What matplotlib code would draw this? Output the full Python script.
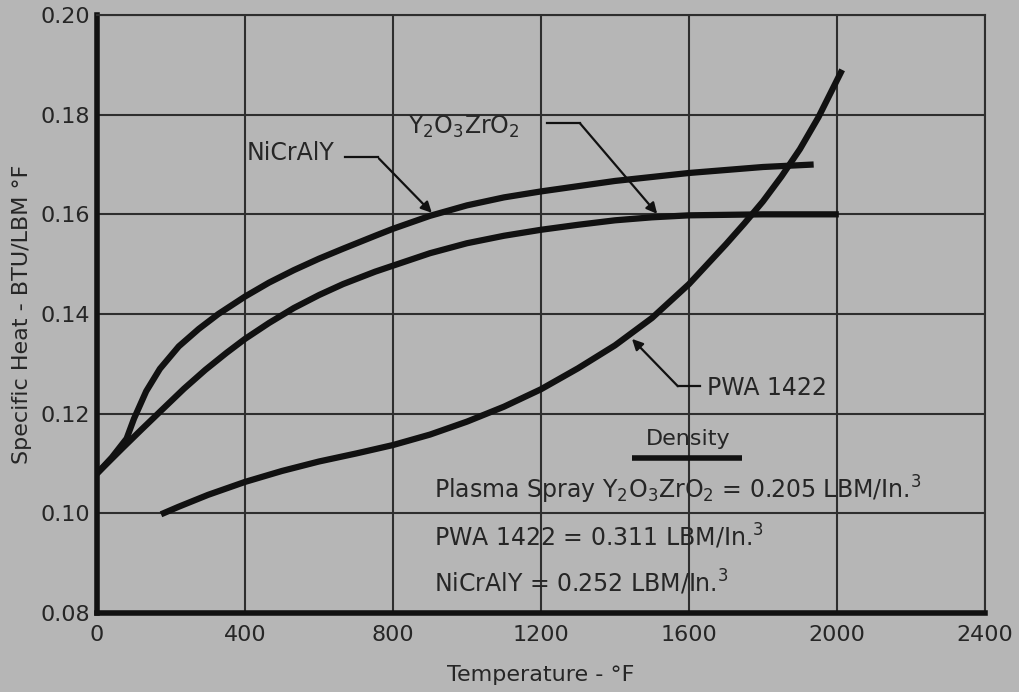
import matplotlib
matplotlib.use("Agg")
import matplotlib.pyplot as plt

# ---- data ----
nicraly_T = [0, 40, 80, 100, 133, 170, 221, 275, 328, 400, 465, 532, 600, 665, 752, 800, 900, 1000,
             1100, 1200, 1400, 1600, 1800, 1937]
nicraly_cp = [0.108, 0.1112, 0.1150, 0.1190, 0.1245, 0.1290, 0.1335, 0.1370, 0.1400, 0.1435, 0.1463,
              0.1488, 0.1511, 0.1531, 0.1557, 0.1571, 0.1597, 0.1618, 0.1634, 0.1646, 0.1667, 0.1683,
              0.1695, 0.1700]

yzr_T = [0, 69, 120, 176, 235, 293, 350, 400, 465, 532, 600, 665, 752, 800, 900, 1000, 1100, 1200,
         1300, 1400, 1500, 1600, 1800, 2005]
yzr_cp = [0.108, 0.1131, 0.1168, 0.1208, 0.1250, 0.1288, 0.1322, 0.1350, 0.1382, 0.1412, 0.1438,
          0.1460, 0.1485, 0.1497, 0.1522, 0.1542, 0.1557, 0.1569, 0.1579, 0.1588, 0.1594, 0.1598,
          0.1600, 0.1600]

pwa_T = [173, 220, 300, 400, 500, 600, 700, 800, 900, 1000, 1100, 1200, 1300, 1400, 1500, 1600,
         1650, 1700, 1750, 1800, 1850, 1900, 1950, 2014]
pwa_cp = [0.0998, 0.1013, 0.1037, 0.1063, 0.1085, 0.1104, 0.1120, 0.1137, 0.1158, 0.1184, 0.1214,
          0.1249, 0.1291, 0.1337, 0.1392, 0.1460, 0.1500, 0.1540, 0.1582, 0.1626, 0.1676, 0.1731,
          0.1795, 0.1890]

x_ticks = [0, 400, 800, 1200, 1600, 2000, 2400]
y_ticks = [0.08, 0.10, 0.12, 0.14, 0.16, 0.18, 0.20]
y_ticklabels = ["0.08", "0.10", "0.12", "0.14", "0.16", "0.18", "0.20"]

density_lines = [
    r"Plasma Spray Y$_2$O$_3$ZrO$_2$ = 0.205 LBM/In.$^3$",
    r"PWA 1422 = 0.311 LBM/In.$^3$",
    r"NiCrAlY = 0.252 LBM/In.$^3$",
]

# ---- style ----
BG = "#b6b6b6"
INK = "#111111"
TXT = "#262626"
GRID = "#2e2e2e"
FS = 16
FS_T = 17

plt.rcParams["font.family"] = ["DejaVu Sans"]
plt.rcParams["mathtext.fontset"] = "dejavusans"

fig = plt.figure(figsize=(10.19, 6.92), dpi=100, facecolor=BG)
ax = fig.add_axes([0.0952, 0.1142, 0.9666 - 0.0952, 0.9783 - 0.1142])
ax.set_facecolor(BG)

ax.set_xlim(0, 2400)
ax.set_ylim(0.08, 0.20)
ax.set_xticks(x_ticks)
ax.set_yticks(y_ticks)
ax.set_yticklabels(y_ticklabels)
ax.grid(True, color=GRID, linewidth=1.5)
ax.set_axisbelow(True)
ax.tick_params(axis="both", length=0, labelsize=FS, colors=TXT)
ax.tick_params(axis="x", pad=9)
ax.tick_params(axis="y", pad=5)

for side in ["top", "right"]:
    ax.spines[side].set_linewidth(1.5)
    ax.spines[side].set_color(GRID)
for side in ["left", "bottom"]:
    ax.spines[side].set_linewidth(4)
    ax.spines[side].set_color(INK)

lw = 4.5
for xs, ys in [(nicraly_T, nicraly_cp), (yzr_T, yzr_cp), (pwa_T, pwa_cp)]:
    ax.plot(xs, ys, color=INK, lw=lw, solid_capstyle="butt", solid_joinstyle="round")

ax.set_xlabel("Temperature - °F", fontsize=FS, color=TXT, labelpad=14)
ax.set_ylabel("Specific Heat - BTU/LBM °F", fontsize=FS, color=TXT, labelpad=6)

# ---- annotations ----
arrow_kw = dict(arrowstyle="-|>", color=INK, lw=1.6, mutation_scale=16, shrinkA=0, shrinkB=0)

# NiCrAlY
ax.text(405, 0.1723, "NiCrAlY", fontsize=FS_T, color=TXT, ha="left", va="center")
ax.plot([670, 760], [0.1715, 0.1715], color=INK, lw=1.6)
ax.annotate("", xy=(905, 0.1603), xytext=(762, 0.1712), arrowprops=arrow_kw)

# Y2O3ZrO2
ax.text(841, 0.1775, r"Y$_2$O$_3$ZrO$_2$", fontsize=FS_T, color=TXT, ha="left", va="center")
ax.plot([1216, 1305], [0.1783, 0.1783], color=INK, lw=1.6)
ax.annotate("", xy=(1514, 0.1601), xytext=(1305, 0.1783), arrowprops=arrow_kw)

# PWA 1422
ax.text(1650, 0.1251, "PWA 1422", fontsize=FS_T, color=TXT, ha="left", va="center")
ax.plot([1630, 1570], [0.1255, 0.1255], color=INK, lw=1.6)
ax.annotate("", xy=(1446, 0.1350), xytext=(1570, 0.1255), arrowprops=arrow_kw)

# Density box
ax.text(1597, 0.1150, "Density", fontsize=FS, color=TXT, ha="center", va="center")
ax.plot([1446, 1743], [0.1112, 0.1112], color=INK, lw=4, solid_capstyle="butt")
for line, yv in zip(density_lines, [0.1047, 0.0953, 0.0862]):
    ax.text(911, yv, line, fontsize=FS_T, color=TXT, ha="left", va="center")

fig.savefig("out.png", dpi=100, facecolor=BG)
